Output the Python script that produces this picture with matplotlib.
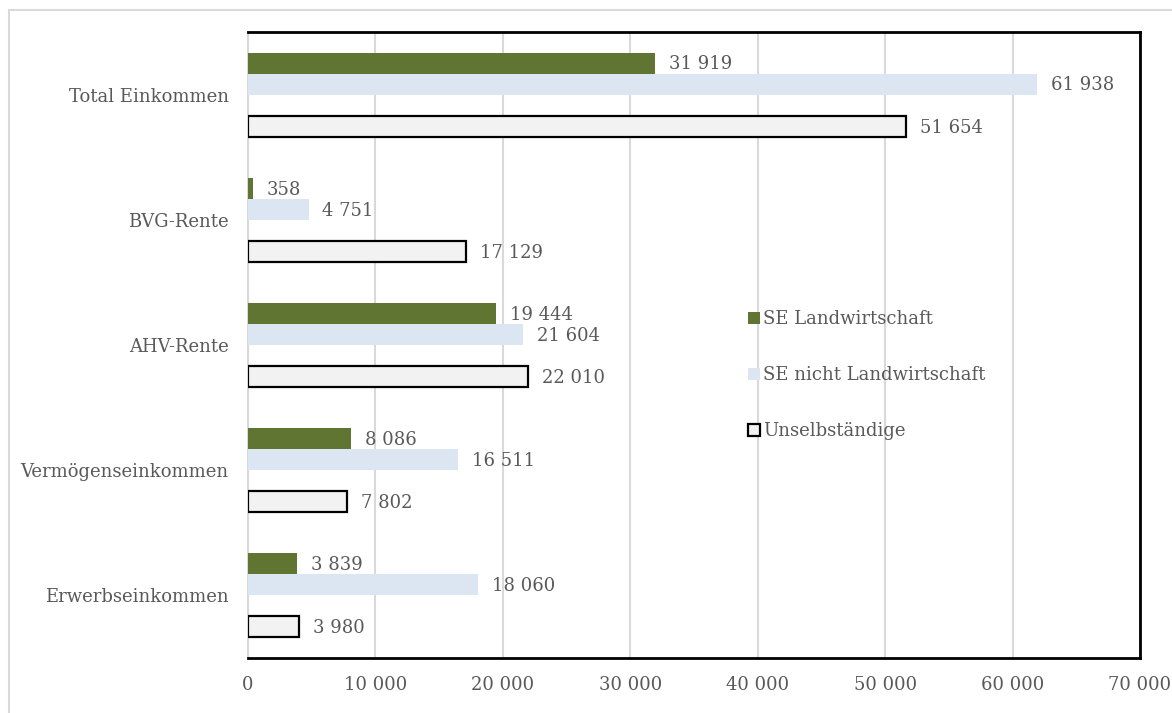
import matplotlib.pyplot as plt
from matplotlib.patches import Patch, Rectangle
from matplotlib.ticker import FuncFormatter

# Einkommenskomponenten (von unten nach oben)
categories = ['Erwerbseinkommen', 'Vermögenseinkommen', 'AHV-Rente', 'BVG-Rente', 'Total Einkommen']
se_landwirtschaft = [3839, 8086, 19444, 358, 31919]
se_nicht_landwirtschaft = [18060, 16511, 21604, 4751, 61938]
unselbstaendige = [3980, 7802, 22010, 17129, 51654]
series_names = ['SE Landwirtschaft', 'SE nicht Landwirtschaft', 'Unselbständige']

text_color = '#595959'
plt.rcParams['font.family'] = ['DejaVu Serif']
plt.rcParams['font.size'] = 13


def fmt(v, pos=None):
    return f"{int(v):,}".replace(',', ' ')


fig = plt.figure(figsize=(11.72, 7.13), dpi=100)
ax = fig.add_axes([0.2116, 0.0771, 0.7611, 0.878])

# outer chart frame
fig.patches.append(Rectangle((9 / 1172, -0.05), 1.2, 1 - 10 / 713 + 0.05, transform=fig.transFigure,
                             fill=False, edgecolor='#d9d9d9', linewidth=1.5, zorder=0))

h = 0.168
y = list(range(len(categories)))
bars = [
    ax.barh([p + 1.5 * h for p in y], se_landwirtschaft, height=h, color='#617532', zorder=3),
    ax.barh([p + 0.5 * h for p in y], se_nicht_landwirtschaft, height=h, color='#dce6f2', zorder=3),
    ax.barh([p - 1.5 * h for p in y], unselbstaendige, height=h, color='#f2f2f2',
            edgecolor='black', linewidth=1.6, zorder=3),
]

for group in bars:
    for rect in group:
        w = rect.get_width()
        ax.annotate(fmt(w), (w, rect.get_y() + rect.get_height() / 2), xytext=(10, -1),
                    textcoords='offset points', ha='left', va='center', color=text_color)

ax.set_xlim(0, 70000)
ax.set_ylim(-0.5, 4.5)
ax.set_xticks(range(0, 70001, 10000))
ax.xaxis.set_major_formatter(FuncFormatter(fmt))
ax.set_yticks(y)
ax.set_yticklabels(categories)
ax.tick_params(axis='both', length=0, colors=text_color)
ax.tick_params(axis='x', pad=13)
ax.tick_params(axis='y', pad=14)
ax.grid(axis='x', color='#d9d9d9', linewidth=1.5, zorder=0)
ax.set_axisbelow(True)

for side in ['top', 'right', 'bottom']:
    ax.spines[side].set_color('black')
    ax.spines[side].set_linewidth(2)
ax.spines['left'].set_color('#d9d9d9')
ax.spines['left'].set_linewidth(1.5)

handles = [
    Patch(facecolor='#617532', edgecolor='none'),
    Patch(facecolor='#dce6f2', edgecolor='none'),
    Patch(facecolor='#f2f2f2', edgecolor='black', linewidth=1.6),
]
leg = ax.legend(handles, series_names, loc='center left', bbox_to_anchor=(0.561, 0.452),
                frameon=False, handlelength=0.65, handleheight=0.65, handletextpad=0.15,
                labelspacing=2.1, borderpad=0, borderaxespad=0)
for t in leg.get_texts():
    t.set_color(text_color)

fig.savefig('out.png', dpi=100)
